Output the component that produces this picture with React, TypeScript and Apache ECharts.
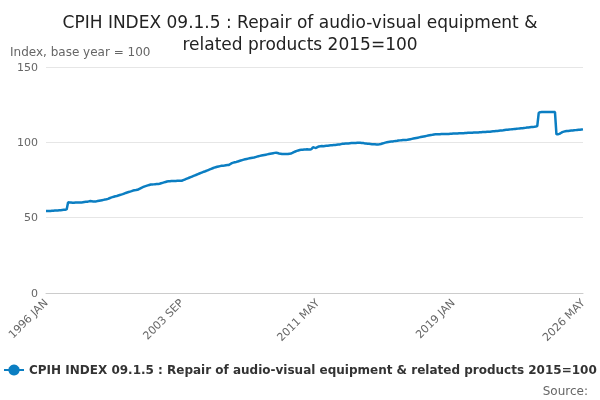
import React, { useEffect, useRef } from "react";
import * as echarts from "echarts";

const MONTHS = ["JAN","FEB","MAR","APR","MAY","JUN","JUL","AUG","SEP","OCT","NOV","DEC"];
const START_YEAR = 1996;
const TICK_LABELS = ["1996 JAN", "2003 SEP", "2011 MAY", "2019 JAN", "2026 MAY"];
const SERIES_NAME = "CPIH INDEX 09.1.5 : Repair of audio-visual equipment & related products 2015=100";

const values: number[] = [
  54.4,54.4,54.5,54.5,54.6,54.6,54.7,54.7,54.8,54.9,55.0,55.1,
  55.2,55.3,55.5,60.3,60.1,60.0,59.9,59.9,60.0,60.0,60.1,60.1,
  60.0,60.2,60.4,60.5,60.6,60.8,61.0,60.9,60.8,60.7,60.8,61.0,
  61.2,61.4,61.6,61.8,62.0,62.2,62.5,62.9,63.3,63.6,63.9,64.2,
  64.4,64.7,65.0,65.3,65.6,66.0,66.4,66.7,67.0,67.3,67.6,68.0,
  68.2,68.3,68.5,69.0,69.5,70.0,70.4,70.8,71.1,71.4,71.7,72.0,
  72.0,72.1,72.2,72.3,72.3,72.5,72.8,73.1,73.4,73.7,74.0,74.2,
  74.2,74.3,74.3,74.4,74.4,74.5,74.5,74.5,74.5,74.9,75.3,75.7,
  76.1,76.5,76.9,77.3,77.7,78.1,78.5,78.9,79.3,79.7,80.1,80.5,
  80.8,81.2,81.6,82.0,82.4,82.8,83.2,83.5,83.8,84.0,84.2,84.4,
  84.5,84.6,84.8,84.9,85.0,85.6,86.2,86.5,86.8,87.0,87.3,87.6,
  87.9,88.2,88.5,88.8,89.0,89.2,89.4,89.6,89.8,89.9,90.2,90.5,
  90.8,91.0,91.2,91.4,91.6,91.8,92.0,92.2,92.4,92.6,92.8,93.0,
  93.1,92.9,92.6,92.4,92.2,92.2,92.3,92.2,92.2,92.4,92.6,93.0,
  93.5,93.9,94.3,94.6,94.9,95.0,95.1,95.2,95.3,95.4,95.3,95.2,
  95.5,96.8,96.5,96.3,96.8,97.3,97.4,97.5,97.4,97.6,97.7,97.8,
  97.9,98.0,98.1,98.2,98.3,98.4,98.5,98.6,98.8,99.0,99.1,99.2,
  99.3,99.3,99.4,99.5,99.5,99.6,99.6,99.7,99.7,99.7,99.6,99.5,
  99.3,99.2,99.1,99.0,98.9,98.8,98.8,98.7,98.6,98.6,98.7,98.9,
  99.2,99.5,99.8,100.0,100.2,100.4,100.5,100.6,100.8,100.9,101.0,101.2,
  101.3,101.4,101.5,101.5,101.6,101.7,101.9,102.1,102.3,102.5,102.7,102.9,
  103.1,103.3,103.5,103.7,103.9,104.1,104.3,104.5,104.7,104.9,105.0,105.2,
  105.3,105.3,105.4,105.4,105.5,105.5,105.5,105.6,105.6,105.6,105.7,105.7,
  105.8,105.8,105.9,105.9,106.0,106.0,106.1,106.1,106.2,106.2,106.3,106.3,
  106.4,106.4,106.5,106.5,106.6,106.6,106.7,106.7,106.8,106.8,106.9,107.0,
  107.0,107.1,107.2,107.3,107.4,107.5,107.6,107.7,107.8,107.9,108.0,108.2,
  108.3,108.4,108.5,108.6,108.7,108.8,108.9,109.0,109.1,109.2,109.3,109.4,
  109.5,109.6,109.8,109.9,110.0,110.1,110.2,110.3,110.5,110.8,119.5,120.0,
  120.1,120.1,120.2,120.2,120.2,120.1,120.1,120.2,120.2,120.1,105.3,105.4,
  105.6,106.2,106.8,107.1,107.3,107.5,107.6,107.7,107.8,107.9,108.0,108.1,
  108.2,108.3,108.4,108.5,108.6,
];

const categories = values.map((_, i) => `${START_YEAR + Math.floor(i / 12)} ${MONTHS[i % 12]}`);

export default function App() {
  const ref = useRef<HTMLDivElement>(null);
  useEffect(() => {
    const chart = echarts.init(ref.current!, undefined, { renderer: "svg" });
    const font = "DejaVu Sans, sans-serif";
    chart.setOption({
      animation: false,
      textStyle: { fontFamily: font },
      title: {
        text: "CPIH INDEX 09.1.5 : Repair of audio-visual equipment &\nrelated products 2015=100",
        left: "center",
        top: 6,
        textStyle: { fontSize: 17, fontWeight: "normal", color: "#222", lineHeight: 22, fontFamily: font },
      },
      grid: { left: 46, right: 17, top: 67, bottom: 107 },
      xAxis: {
        type: "category",
        data: categories,
        boundaryGap: false,
        axisLine: { lineStyle: { color: "#ccc" } },
        axisTick: { show: false },
        axisLabel: {
          interval: (i: number, v: string) => TICK_LABELS.includes(v),
          rotate: 45,
          color: "#666",
          fontSize: 11,
          fontFamily: font,
        },
      },
      yAxis: {
        type: "value",
        min: 0,
        max: 150,
        interval: 50,
        name: "Index, base year = 100",
        nameLocation: "end",
        nameGap: 9,
        nameTextStyle: { align: "left", padding: [0, 0, 0, -36], color: "#666", fontSize: 12, fontFamily: font },
        axisLabel: { color: "#666", fontSize: 11, fontFamily: font },
        splitLine: { lineStyle: { color: "#e6e6e6" } },
      },
      legend: {
        bottom: 19,
        left: -2,
        itemWidth: 20,
        itemGap: 4,
        textStyle: { fontSize: 12, fontWeight: "bold", color: "#333", fontFamily: font },
        data: [SERIES_NAME],
      },
      graphic: [
        { type: "text", right: 12, bottom: 3, style: { text: "Source:", fontSize: 12, fill: "#666", fontFamily: font } },
      ],
      series: [
        {
          name: SERIES_NAME,
          type: "line",
          data: values,
          showSymbol: false,
          symbol: "circle",
          symbolSize: 5,
          itemStyle: { color: "#0b7ec2" },
          lineStyle: { width: 2.5, color: "#0b7ec2" },
        },
      ],
    });
    return () => chart.dispose();
  }, []);
  return <div ref={ref} style={{ position: "fixed", left: 0, top: 0, width: 600, height: 400 }} />;
}
